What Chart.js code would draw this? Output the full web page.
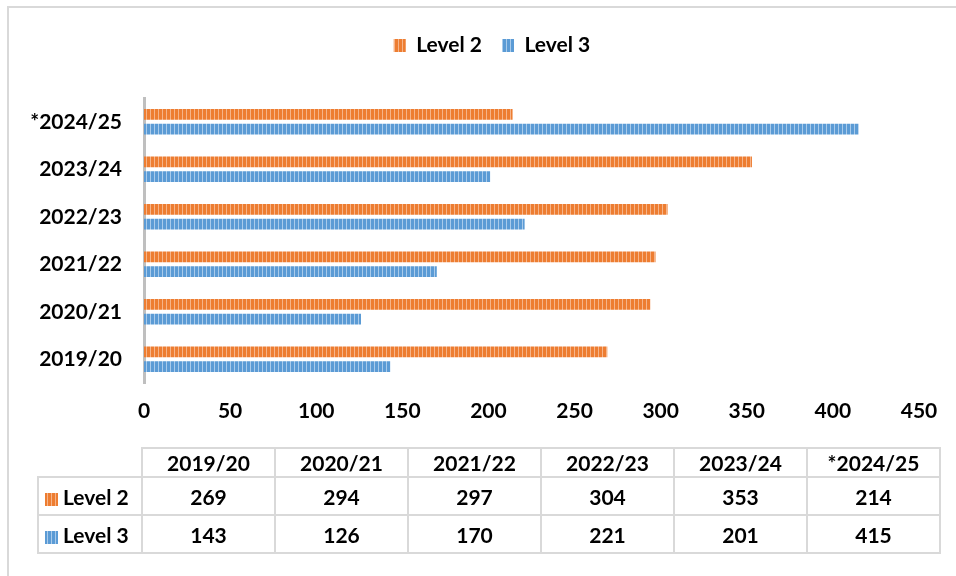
<!DOCTYPE html>
<html>
<head>
<meta charset="utf-8">
<script src="https://cdn.jsdelivr.net/npm/chart.js@4.4.1/dist/chart.umd.min.js"></script>
<style>
  body { margin: 0; background: #fff; overflow: hidden; }
  #wrap { position: relative; width: 956px; height: 576px; font-family: Lato, "Noto Sans", sans-serif; }
  #frame { position: absolute; left: 7px; top: 6px; right: -20px; bottom: -20px;
           border-left: 2px solid #d9d9d9; border-top: 2px solid #d9d9d9; }
  #chart { position: absolute; left: 0; top: 0; }
  #tbl { position: absolute; left: 37px; top: 447px; border-collapse: collapse;
         font-weight: bold; font-size: 21px; color: #000; }
  #tbl td, #tbl th { border: 2px solid #d9d9d9; padding: 0; text-align: center; width: 131px; }
  #tbl th { height: 27px; font-weight: bold; }
  #tbl td { height: 36px; }
  #tbl .corner { border: none; width: 102px; }
  #tbl .rowhead { text-align: left; padding-left: 6px; width: 96px; }
  .key { display: inline-block; width: 13px; height: 13px; margin-right: 5px; vertical-align: -1px; }
</style>
</head>
<body>
<div id="wrap">
  <div id="frame"></div>
  <canvas id="chart" width="956" height="576"></canvas>
  <table id="tbl"></table>
</div>
<script>
// Apprenticeship starts by level and academic year
const seasons = ["2019/20", "2020/21", "2021/22", "2022/23", "2023/24", "*2024/25"];
const level2 = [269, 294, 297, 304, 353, 214];
const level3 = [143, 126, 170, 221, 201, 415];
const seriesNames = ["Level 2", "Level 3"];
const xMax = 450;
const xStep = 50;

const orange = "#ED7D31";
const orangeLight = "#F6B489";
const blue = "#5B9BD5";
const blueLight = "#A9CBEB";

// narrow vertical stripe fill, like the office pattern
function stripes(base, light) {
  const c = document.createElement("canvas");
  c.width = 4;
  c.height = 4;
  const g = c.getContext("2d");
  g.fillStyle = base;
  g.fillRect(0, 0, 4, 4);
  g.fillStyle = light;
  g.fillRect(2, 0, 1, 4);
  return g.createPattern(c, "repeat");
}

const font = { family: "Lato, 'Noto Sans', sans-serif", weight: "bold", size: 21 };

// nudge the legend up and to the right after layout
const legendShift = {
  id: "legendShift",
  afterLayout(chart) {
    const lg = chart.legend;
    lg.left += 65;
    lg.top -= 32;
    lg.bottom -= 32;
  },
};

new Chart(document.getElementById("chart"), {
  type: "bar",
  data: {
    labels: seasons,
    datasets: [
      { label: seriesNames[0], data: level2, backgroundColor: stripes(orange, orangeLight) },
      { label: seriesNames[1], data: level3, backgroundColor: stripes(blue, blueLight) },
    ],
  },
  plugins: [legendShift],
  options: {
    indexAxis: "y",
    responsive: false,
    animation: false,
    categoryPercentage: 0.625,
    barPercentage: 0.73,
    layout: { padding: { left: 0, right: 37, top: 47, bottom: 148 } },
    plugins: {
      legend: {
        position: "top",
        labels: {
          font: font,
          color: "#000",
          boxWidth: 12,
          boxHeight: 13,
          padding: 20,
        },
      },
      tooltip: { enabled: false },
    },
    scales: {
      x: {
        min: 0,
        max: xMax,
        ticks: { stepSize: xStep, font: font, color: "#000", padding: 16 },
        grid: { display: false, drawTicks: false },
        border: { display: false },
        afterFit: (scale) => { scale.height = 45; },
      },
      y: {
        reverse: true,
        ticks: { font: font, color: "#000", padding: 22 },
        grid: { display: false, drawTicks: false },
        border: { display: true, color: "#bfbfbf", width: 3 },
        afterFit: (scale) => { scale.width = 144; },
      },
    },
  },
});

// data table under the chart
const tbl = document.getElementById("tbl");
let head = '<tr><th class="corner"></th>';
seasons.forEach((s) => { head += "<th>" + s + "</th>"; });
head += "</tr>";
const rows = [level2, level3];
const keyFill = [
  "repeating-linear-gradient(90deg," + orange + " 0 2px," + orangeLight + " 2px 3px," + orange + " 3px 4px)",
  "repeating-linear-gradient(90deg," + blue + " 0 2px," + blueLight + " 2px 3px," + blue + " 3px 4px)",
];
let body = "";
rows.forEach((vals, i) => {
  body += '<tr><td class="rowhead"><span class="key" style="background:' + keyFill[i] + '"></span>' + seriesNames[i] + "</td>";
  vals.forEach((v) => { body += "<td>" + v + "</td>"; });
  body += "</tr>";
});
tbl.innerHTML = head + body;
</script>
</body>
</html>
